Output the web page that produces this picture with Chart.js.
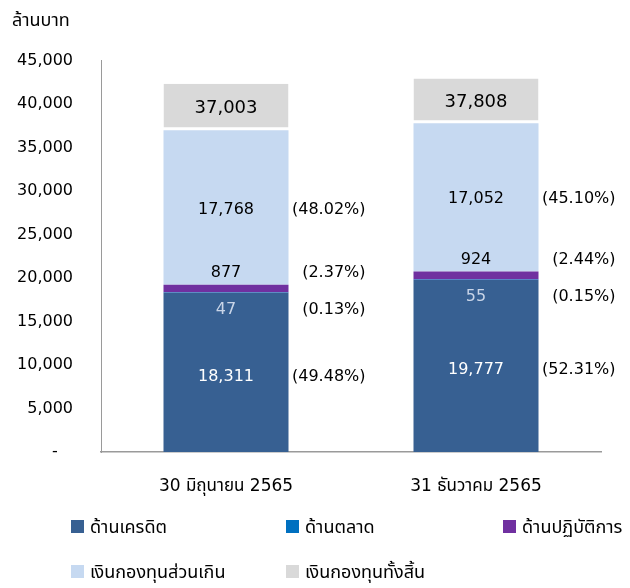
<!DOCTYPE html>
<html>
<head>
<meta charset="utf-8">
<script src="https://cdn.jsdelivr.net/npm/chart.js@4.4.0/dist/chart.umd.min.js"></script>
<style>
  html, body { margin: 0; padding: 0; background: #fff; }
  #wrap { position: relative; width: 630px; height: 588px; }
  #c { position: absolute; left: 0; top: 0; }
  .leg { position: absolute; font-family: 'DejaVu Sans', 'Noto Sans Thai', 'Noto Sans', sans-serif; font-size: 18px; color: #000; white-space: nowrap; line-height: 22px; }
  .leg span.sw { display: inline-block; width: 13px; height: 13px; margin-right: 6px; vertical-align: 0px; }
</style>
</head>
<body>
<div id="wrap">
  <canvas id="c" width="630" height="588"></canvas>
  <div id="legend"></div>
</div>
<script>
const categories = ['30 มิถุนายน 2565', '31 ธันวาคม 2565'];
const seriesNames = ['ด้านเครดิต', 'ด้านตลาด', 'ด้านปฏิบัติการ', 'เงินกองทุนส่วนเกิน', 'เงินกองทุนทั้งสิ้น'];
const creditRisk = [18311, 19777];
const marketRisk = [47, 55];
const operationalRisk = [877, 924];
const excessCapital = [17768, 17052];
const totalCapital = [37003, 37808];
const totalBoxSize = [5330, 5130];
const creditPct = [49.48, 52.31];
const marketPct = [0.13, 0.15];
const operationalPct = [2.37, 2.44];
const excessPct = [48.02, 45.10];
const yTicks = [0, 5000, 10000, 15000, 20000, 25000, 30000, 35000, 40000, 45000];

const colors = ['#376092', '#0070C0', '#7030A0', '#C6D9F1', '#D9D9D9'];
const FONT = "'DejaVu Sans', 'Noto Sans Thai', 'Noto Sans', sans-serif";

const fmt = v => v.toLocaleString('en-US');
const pct = v => '(' + v.toFixed(2) + '%)';

const labelPlugin = {
  id: 'segLabels',
  afterDatasetsDraw(chart) {
    const ctx = chart.ctx;
    ctx.save();
    ctx.textBaseline = 'middle';
    const m = i => chart.getDatasetMeta(i).data;
    const credit = m(0), market = m(1), ops = m(2), excess = m(3), total = m(4);
    for (let j = 0; j < categories.length; j++) {
      const cx = credit[j].x;
      const right = credit[j].x + credit[j].width / 2;
      const pctX = right + 77;
      const items = [];
      const cy = (credit[j].y + credit[j].base) / 2 + 4;
      items.push([fmt(creditRisk[j]), cy, '#ffffff', pct(creditPct[j])]);
      const my = market[j].base + 17;
      items.push([fmt(marketRisk[j]), my, '#c9d5e8', pct(marketPct[j])]);
      const oy = ops[j].y - 12;
      items.push([fmt(operationalRisk[j]), oy, '#000000', pct(operationalPct[j])]);
      const ey = (excess[j].y + excess[j].base) / 2 + 2;
      items.push([fmt(excessCapital[j]), ey, '#000000', pct(excessPct[j])]);
      ctx.font = '16px ' + FONT;
      for (const [t, y, col, p] of items) {
        ctx.textAlign = 'center';
        ctx.fillStyle = col;
        ctx.fillText(t, cx, y);
        ctx.textAlign = 'right';
        ctx.fillStyle = '#000';
        ctx.fillText(p, pctX, y);
      }
      ctx.font = '18px ' + FONT;
      ctx.textAlign = 'center';
      ctx.fillStyle = '#000';
      ctx.fillText(fmt(totalCapital[j]), cx, (total[j].y + total[j].base) / 2 + 1);
    }
    ctx.restore();
  }
};

const chart = new Chart(document.getElementById('c'), {
  type: 'bar',
  data: {
    labels: categories,
    datasets: [
      { label: seriesNames[0], data: creditRisk, backgroundColor: colors[0] },
      { label: seriesNames[1], data: marketRisk, backgroundColor: colors[1] },
      { label: seriesNames[2], data: operationalRisk, backgroundColor: colors[2] },
      { label: seriesNames[3], data: excessCapital, backgroundColor: colors[3] },
      { label: seriesNames[4], data: totalBoxSize, backgroundColor: colors[4],
        borderColor: '#ffffff', borderWidth: { top: 0, left: 0, right: 0, bottom: 3 }, borderSkipped: false }
    ]
  },
  options: {
    responsive: false,
    animation: false,
    events: [],
    layout: { padding: { left: 12, right: 29, top: 11, bottom: 66 } },
    datasets: { bar: { barPercentage: 0.5, categoryPercentage: 1.0 } },
    plugins: {
      legend: { display: false },
      tooltip: { enabled: false },
      title: {
        display: true, text: 'ล้านบาท', align: 'start', color: '#000',
        font: { family: FONT, size: 18, weight: 'normal' },
        padding: { top: 0, bottom: 28 }
      }
    },
    scales: {
      x: {
        stacked: true,
        afterFit: s => { s.height = 70; },
        grid: { display: false, drawTicks: false },
        border: { display: true, color: '#9a9a9a', width: 1.5 },
        ticks: { color: '#000', font: { family: FONT, size: 17 }, padding: 24 }
      },
      y: {
        stacked: true,
        min: 0, max: 45000,
        afterFit: s => { s.width = 89; },
        afterBuildTicks: axis => { axis.ticks = yTicks.map(v => ({ value: v })); },
        grid: { display: false, drawTicks: false },
        border: { display: true, color: '#9a9a9a', width: 1 },
        ticks: {
          color: '#000', font: { family: FONT, size: 16 }, padding: 28,
          callback: v => v === 0 ? '-   ' : fmt(v)
        }
      }
    }
  },
  plugins: [labelPlugin]
});

const legendPos = [[71, 527], [286, 527], [503, 527], [71, 572], [286, 572]];
const legendEl = document.getElementById('legend');
seriesNames.forEach((name, i) => {
  const d = document.createElement('div');
  d.className = 'leg';
  d.style.left = legendPos[i][0] + 'px';
  d.style.top = (legendPos[i][1] - 11) + 'px';
  d.innerHTML = '<span class="sw" style="background:' + colors[i] + '"></span>' + name;
  legendEl.appendChild(d);
});
</script>
</body>
</html>
